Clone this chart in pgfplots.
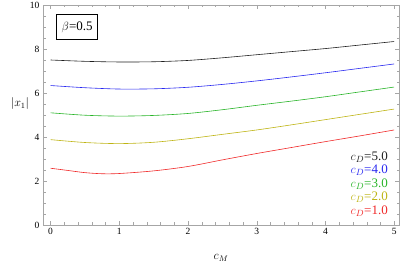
\documentclass[border=0pt]{standalone}
\usepackage{fontspec}
\setmainfont{Liberation Serif}
\usepackage{pgfplots}
\pgfplotsset{compat=1.18}
\definecolor{cblack}{RGB}{30,30,30}
\definecolor{cblue}{RGB}{40,40,240}
\definecolor{cgreen}{RGB}{40,180,40}
\definecolor{cyellow}{RGB}{190,180,20}
\definecolor{cred}{RGB}{240,40,40}
\begin{document}
\begin{tikzpicture}[x=1pt,y=1pt]
\path[use as bounding box] (0,0) rectangle (402,262);
\begin{axis}[
  at={(43pt,37pt)}, anchor=south west,
  scale only axis, width=356pt, height=220pt,
  xmin=-0.11, xmax=5.07, ymin=0, ymax=10,
  xtick={0,1,2,3,4,5}, ytick={0,2,4,6,8,10},
  minor x tick num=4, minor y tick num=3,
  tick align=inside,
  major tick length=4pt, minor tick length=2.5pt,
  axis line style={gray!70},
  every tick/.style={gray!70},
  tick label style={font=\fontsize{9.5}{10}\selectfont},
  /pgf/number format/assume math mode=true,
  xlabel={$c_M$}, ylabel={$|x_1|$},
  xlabel style={font=\fontsize{12}{13}\selectfont, at={(rel axis cs:0.5,0)}, anchor=center, yshift=-33pt},
  ylabel style={font=\fontsize{12}{13}\selectfont, rotate=-90, anchor=center, at={(rel axis cs:0,0.55)}, xshift=-23pt},
  clip=true,
]
\addplot[cblack, semithick, smooth] coordinates {(0,7.5) (0.5,7.44) (1,7.41) (1.5,7.42) (2,7.48) (2.5,7.6) (3,7.74) (3.5,7.88) (4,8.02) (4.5,8.18) (5,8.34)};
\addplot[cblue, semithick, smooth] coordinates {(0,6.34) (0.5,6.24) (1,6.18) (1.5,6.19) (2,6.26) (2.5,6.39) (3,6.55) (3.5,6.73) (4,6.92) (4.5,7.12) (5,7.32)};
\addplot[cgreen, semithick, smooth] coordinates {(0,5.1) (0.5,4.99) (1,4.95) (1.5,4.98) (2,5.07) (2.5,5.24) (3,5.44) (3.5,5.63) (4,5.83) (4.5,6.05) (5,6.27)};
\addplot[cyellow, semithick, smooth] coordinates {(0,3.88) (0.5,3.75) (1,3.70) (1.5,3.76) (2,3.92) (2.5,4.12) (3,4.32) (3.5,4.55) (4,4.79) (4.5,5.03) (5,5.27)};
\addplot[cred, semithick, smooth] coordinates {(0,2.58) (0.25,2.48) (0.5,2.38) (0.75,2.33) (1,2.34) (1.5,2.46) (2,2.66) (2.5,2.96) (3,3.25) (3.5,3.52) (4,3.79) (4.5,4.05) (5,4.32)};
\node[draw=black, thick, fill=white, inner xsep=5pt, inner ysep=7pt, font=\fontsize{13}{14}\selectfont] at (rel axis cs:0.096,0.9) {$\beta$=0.5};
\begin{scope}[every node/.style={anchor=east, inner sep=0pt, font=\fontsize{13}{14}\selectfont}]
\node[text=cblack] at (rel axis cs:0.969,0.309) {$c_D$=5.0};
\node[text=cblue] at (rel axis cs:0.969,0.248) {$c_D$=4.0};
\node[text=cgreen] at (rel axis cs:0.969,0.186) {$c_D$=3.0};
\node[text=cyellow] at (rel axis cs:0.969,0.125) {$c_D$=2.0};
\node[text=cred] at (rel axis cs:0.969,0.064) {$c_D$=1.0};
\end{scope}
\end{axis}
\end{tikzpicture}
\end{document}
